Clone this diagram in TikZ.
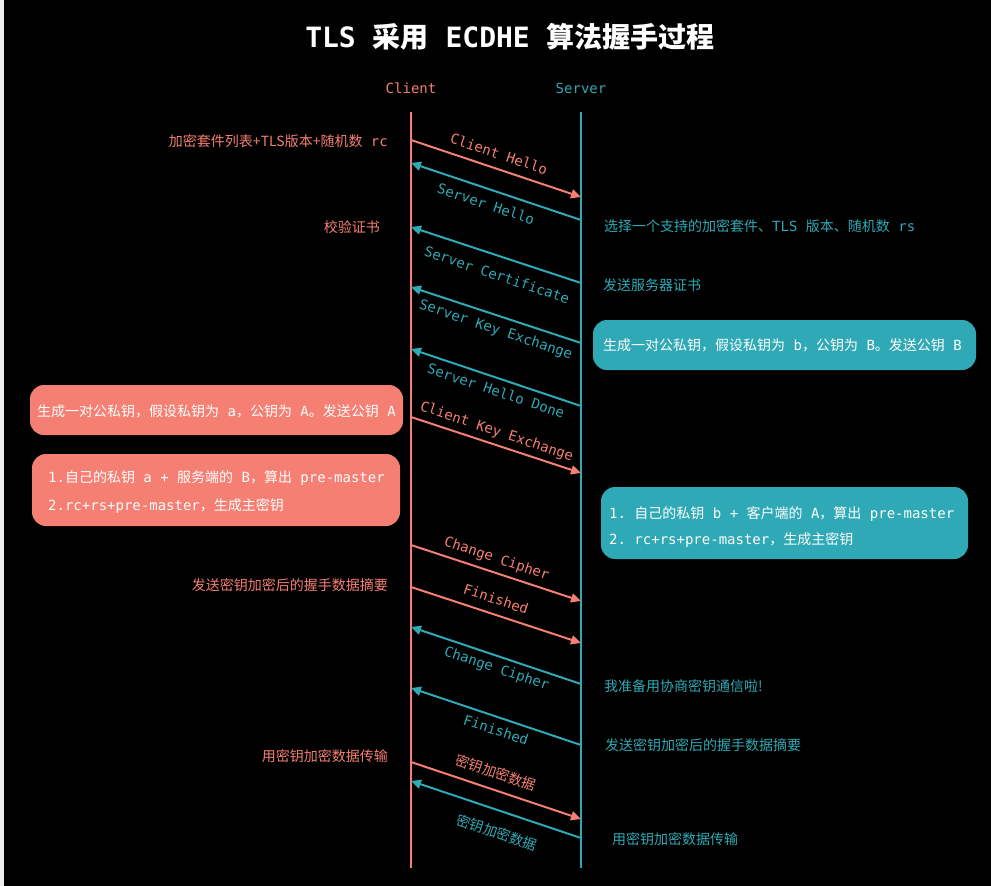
\documentclass[tikz,border=0pt]{standalone}
\usepackage{fontspec}
\setmonofont{DejaVu Sans Mono}
\newfontfamily\cjk{Noto Sans CJK SC}
\usetikzlibrary{arrows.meta}
\definecolor{salmon}{HTML}{F47F72}
\definecolor{tealc}{HTML}{2FA9B5}
\definecolor{stripgray}{HTML}{EEEEEA}
\newcommand\m[1]{{\ttfamily #1}}
\tikzset{
  base/.style={inner sep=0pt, text height=10pt, text depth=0pt},
  zh/.style={font=\cjk\fontsize{14}{16}\selectfont},
  ltxt/.style={base, zh, anchor=east, text=salmon},
  rtxt/.style={base, zh, anchor=west, text=tealc},
  mono/.style={font=\ttfamily\fontsize{14}{16}\selectfont},
  clab/.style={base, text=salmon, rotate=-18.53},
  slab/.style={base, text=tealc, rotate=-18.53},
  tip/.style={-{Triangle[length=10pt,width=9pt]}},
  cmsg/.style={draw=salmon, line width=2pt, tip},
  smsg/.style={draw=tealc, line width=2pt, tip},
  lifeC/.style={draw=salmon, line width=2.5pt},
  lifeS/.style={draw=tealc, line width=2.5pt},
  cbox/.style={fill=salmon, rounded corners=14pt, inner sep=0pt},
  sbox/.style={fill=tealc, rounded corners=14pt, inner sep=0pt},
  btxt/.style={base, zh, text=white},
}
\begin{document}
\begin{tikzpicture}[x=1pt, y=-1pt]
\fill[black] (0,0) rectangle (991,886);
\fill[stripgray] (0,0) rectangle (4,886);
\useasboundingbox (0,0) rectangle (991,886);

% title
\node[inner sep=0pt, text=white, font=\cjk\bfseries\fontsize{28}{32}\selectfont] (title) at (510,37)
  {\m{TLS }采用\m{ ECDHE }算法握手过程};

% participants
\node[base, mono, text=salmon] (client) at (411,88) {Client};
\node[base, mono, text=tealc] (server) at (581,88) {Server};

% lifelines
\coordinate (cT) at (411,112); \coordinate (cB) at (411,868);
\coordinate (sT) at (581,112); \coordinate (sB) at (581,868);
\draw[lifeC] (cT) -- (cB);
\draw[lifeS] (sT) -- (sB);

% message end points
\coordinate (c1) at (411,140); \coordinate (s1) at (581,197);
\coordinate (s2) at (581,220); \coordinate (c2) at (411,163);
\coordinate (s3) at (581,283); \coordinate (c3) at (411,227);
\coordinate (s4) at (581,343); \coordinate (c4) at (411,287);
\coordinate (s5) at (581,406); \coordinate (c5) at (411,349);
\coordinate (c6) at (411,417); \coordinate (s6) at (581,473);
\coordinate (c7) at (411,545); \coordinate (s7) at (581,601);
\coordinate (c8) at (411,587); \coordinate (s8) at (581,643);
\coordinate (s9) at (581,684); \coordinate (c9) at (411,627);
\coordinate (s10) at (581,745); \coordinate (c10) at (411,688);
\coordinate (c11) at (411,762); \coordinate (s11) at (581,819);
\coordinate (s12) at (581,838); \coordinate (c12) at (411,781);

\draw[cmsg] (c1) -- (s1);
\draw[smsg] (s2) -- (c2);
\draw[smsg] (s3) -- (c3);
\draw[smsg] (s4) -- (c4);
\draw[smsg] (s5) -- (c5);
\draw[cmsg] (c6) -- (s6);
\draw[cmsg] (c7) -- (s7);
\draw[cmsg] (c8) -- (s8);
\draw[smsg] (s9) -- (c9);
\draw[smsg] (s10) -- (c10);
\draw[cmsg] (c11) -- (s11);
\draw[smsg] (s12) -- (c12);

% message labels
\node[clab, mono] (l1) at (499,154) {Client Hello};
\node[slab, mono] (l2) at (486,204) {Server Hello};
\node[slab, mono] (l3) at (497,275) {Server Certificate};
\node[slab, mono] (l4) at (496,329) {Server Key Exchange};
\node[slab, mono] (l5) at (496,391) {Server Hello Done};
\node[clab, mono] (l6) at (497,431) {Client Key Exchange};
\node[clab, mono] (l7) at (497,558) {Change Cipher};
\node[clab, mono] (l8) at (496,599) {Finished};
\node[slab, mono] (l9) at (497,668) {Change Cipher};
\node[slab, mono] (l10) at (496,730) {Finished};
\node[clab, zh] (l11) at (496,773) {密钥加密数据};
\node[slab, zh] (l12) at (497,833) {密钥加密数据};

% client side notes
\node[ltxt] (n1) at (388,141) {加密套件列表+TLS版本+随机数\m{ rc}};
\node[ltxt] (n2) at (380,227) {校验证书};
\node[ltxt] (n3) at (388,585) {发送密钥加密后的握手数据摘要};
\node[ltxt] (n4) at (388,756) {用密钥加密数据传输};

% server side notes
\node[rtxt] (r1) at (604,226) {选择一个支持的加密套件、\m{TLS }版本、随机数\m{ rs}};
\node[rtxt] (r2) at (603,285) {发送服务器证书};
\node[rtxt] (r3) at (604,686) {我准备用协商密钥通信啦!};
\node[rtxt] (r4) at (605,745) {发送密钥加密后的握手数据摘要};
\node[rtxt] (r5) at (612,839) {用密钥加密数据传输};

% boxes
\node[cbox, minimum width=373pt, minimum height=50pt] (kc) at (216.5,410) {};
\node[btxt] (kct) at (216.5,411) {生成一对公私钥，假设私钥为\m{ a}，公钥为\m{ A}。发送公钥\m{ A}};

\node[cbox, minimum width=368pt, minimum height=72pt] (pc) at (216,490) {};
\node[btxt, anchor=west] (pc1) at (48,477) {\m{1.}自己的私钥\m{ a + }服务端的\m{ B}，算出\m{ pre-master}};
\node[btxt, anchor=west] (pc2) at (48,505) {\m{2.rc+rs+pre-master}，生成主密钥};

\node[sbox, minimum width=383pt, minimum height=50pt] (ks) at (784.5,345) {};
\node[btxt] (kst) at (782.5,345) {生成一对公私钥，假设私钥为\m{ b}，公钥为\m{ B}。发送公钥\m{ B}};

\node[sbox, minimum width=367pt, minimum height=72pt] (ps) at (784.5,523) {};
\node[btxt, anchor=west] (ps1) at (609,513) {\m{1. }自己的私钥\m{ b + }客户端的\m{ A}，算出\m{ pre-master}};
\node[btxt, anchor=west] (ps2) at (609,539) {\m{2. rc+rs+pre-master}，生成主密钥};
\end{tikzpicture}
\end{document}
